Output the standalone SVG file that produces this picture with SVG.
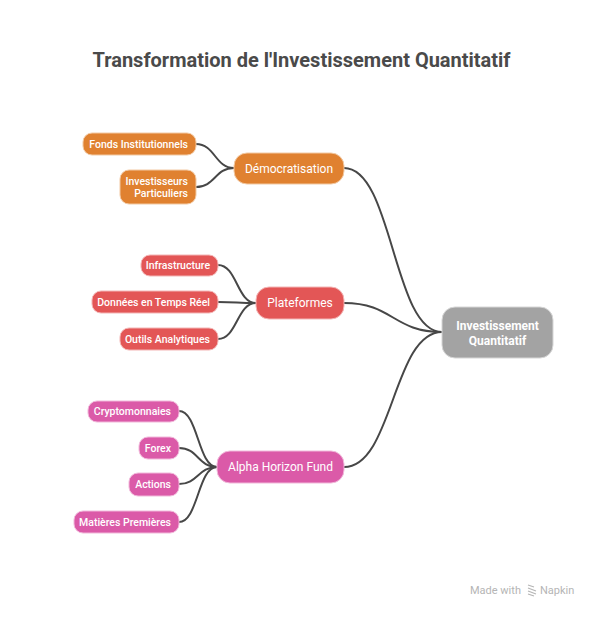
<svg xmlns="http://www.w3.org/2000/svg" width="603" height="619" viewBox="0 0 603 619">
<style>
.title{font-family:Roboto,"Liberation Sans",sans-serif;font-size:20px;font-weight:bold;fill:#4a4a4a;text-anchor:middle}
.cat{font-family:Roboto,"Liberation Sans",sans-serif;font-size:12px;fill:#fff;text-anchor:middle}
.leaf{font-family:Roboto,"Liberation Sans",sans-serif;font-size:10.5px;font-weight:500;fill:#fff;text-anchor:end}
.root{font-family:Roboto,"Liberation Sans",sans-serif;font-size:12px;font-weight:bold;fill:#fff;text-anchor:middle}
.orange{fill:#E08130;stroke:#F2C9A3;stroke-width:1}
.red{fill:#E35656;stroke:#F3B5B5;stroke-width:1}
.pink{fill:#DB5AA8;stroke:#F1B8DA;stroke-width:1}
.grey{fill:#A3A3A3;stroke:#D6D6D6;stroke-width:1}
.conn path{fill:none;stroke:#474747;stroke-width:2}
.wm{font-family:Roboto,"Liberation Sans",sans-serif;font-size:11px;fill:#b5b5b5}
</style>
<rect width="603" height="619" fill="#fff"/>
<text class="title" x="301.5" y="67">Transformation de l'Investissement Quantitatif</text>
<g id="connectors" class="conn">
<path d="M344,168 C393,168 393,332 442,332"/>
<path d="M344,303 C393,303 393,332 442,332"/>
<path d="M344,467 C393,467 393,332 442,332"/>
<path d="M196,144 C215,144 215,168 234,168"/>
<path d="M196,187 C215,187 215,168 234,168"/>
<path d="M218,265 C237,265 237,303 256,303"/>
<path d="M218,302 C237,302 237,303 256,303"/>
<path d="M218,339 C237,339 237,303 256,303"/>
<path d="M179,411 C198,411 198,467 217,467"/>
<path d="M179,448 C198,448 198,467 217,467"/>
<path d="M179,484 C198,484 198,467 217,467"/>
<path d="M179,522 C198,522 198,467 217,467"/>
</g>
<g id="root">
<rect class="grey" x="442" y="307" width="111" height="51" rx="13"/>
<text class="root" x="497.5" y="330">Investissement</text>
<text class="root" x="497.5" y="344.5">Quantitatif</text>
</g>
<g id="democratisation">
<rect class="orange" x="234" y="153" width="110" height="31" rx="13"/>
<text class="cat" x="289" y="172.5">Démocratisation</text>
</g>
<g id="fonds">
<rect class="orange" x="83" y="133" width="113" height="22" rx="9"/>
<text class="leaf" x="188" y="147.5">Fonds Institutionnels</text>
</g>
<g id="investisseurs">
<rect class="orange" x="120" y="170" width="76" height="34" rx="9"/>
<text class="leaf" x="188" y="184.5">Investisseurs</text>
<text class="leaf" x="188" y="196.5">Particuliers</text>
</g>
<g id="plateformes">
<rect class="red" x="256" y="287" width="88" height="32" rx="13"/>
<text class="cat" x="300" y="307">Plateformes</text>
</g>
<g id="infrastructure">
<rect class="red" x="141" y="255" width="77" height="21" rx="9"/>
<text class="leaf" x="210" y="269">Infrastructure</text>
</g>
<g id="donnees">
<rect class="red" x="92" y="291" width="126" height="22" rx="9"/>
<text class="leaf" x="210" y="305.5">Données en Temps Réel</text>
</g>
<g id="outils">
<rect class="red" x="120" y="328" width="98" height="22" rx="9"/>
<text class="leaf" x="210" y="342.5">Outils Analytiques</text>
</g>
<g id="alpha">
<rect class="pink" x="217" y="451" width="127" height="32" rx="13"/>
<text class="cat" x="280.5" y="471">Alpha Horizon Fund</text>
</g>
<g id="crypto">
<rect class="pink" x="88" y="401" width="91" height="21" rx="9"/>
<text class="leaf" x="171" y="415">Cryptomonnaies</text>
</g>
<g id="forex">
<rect class="pink" x="139" y="437" width="40" height="22" rx="9"/>
<text class="leaf" x="171" y="451.5">Forex</text>
</g>
<g id="actions">
<rect class="pink" x="129" y="473" width="50" height="23" rx="9"/>
<text class="leaf" x="171" y="488">Actions</text>
</g>
<g id="matieres">
<rect class="pink" x="74" y="511" width="105" height="22" rx="9"/>
<text class="leaf" x="171" y="525.5">Matières Premières</text>
</g>
<g id="watermark">
<text class="wm" x="470" y="594">Made with</text>
<path d="M528,585 l6,2 M528,588 l8,3 M528,591 l8,3 M528,594 l6,2" stroke="#b5b5b5" stroke-width="1.2" fill="none"/>
<text class="wm" x="540" y="594">Napkin</text>
</g>
</svg>
